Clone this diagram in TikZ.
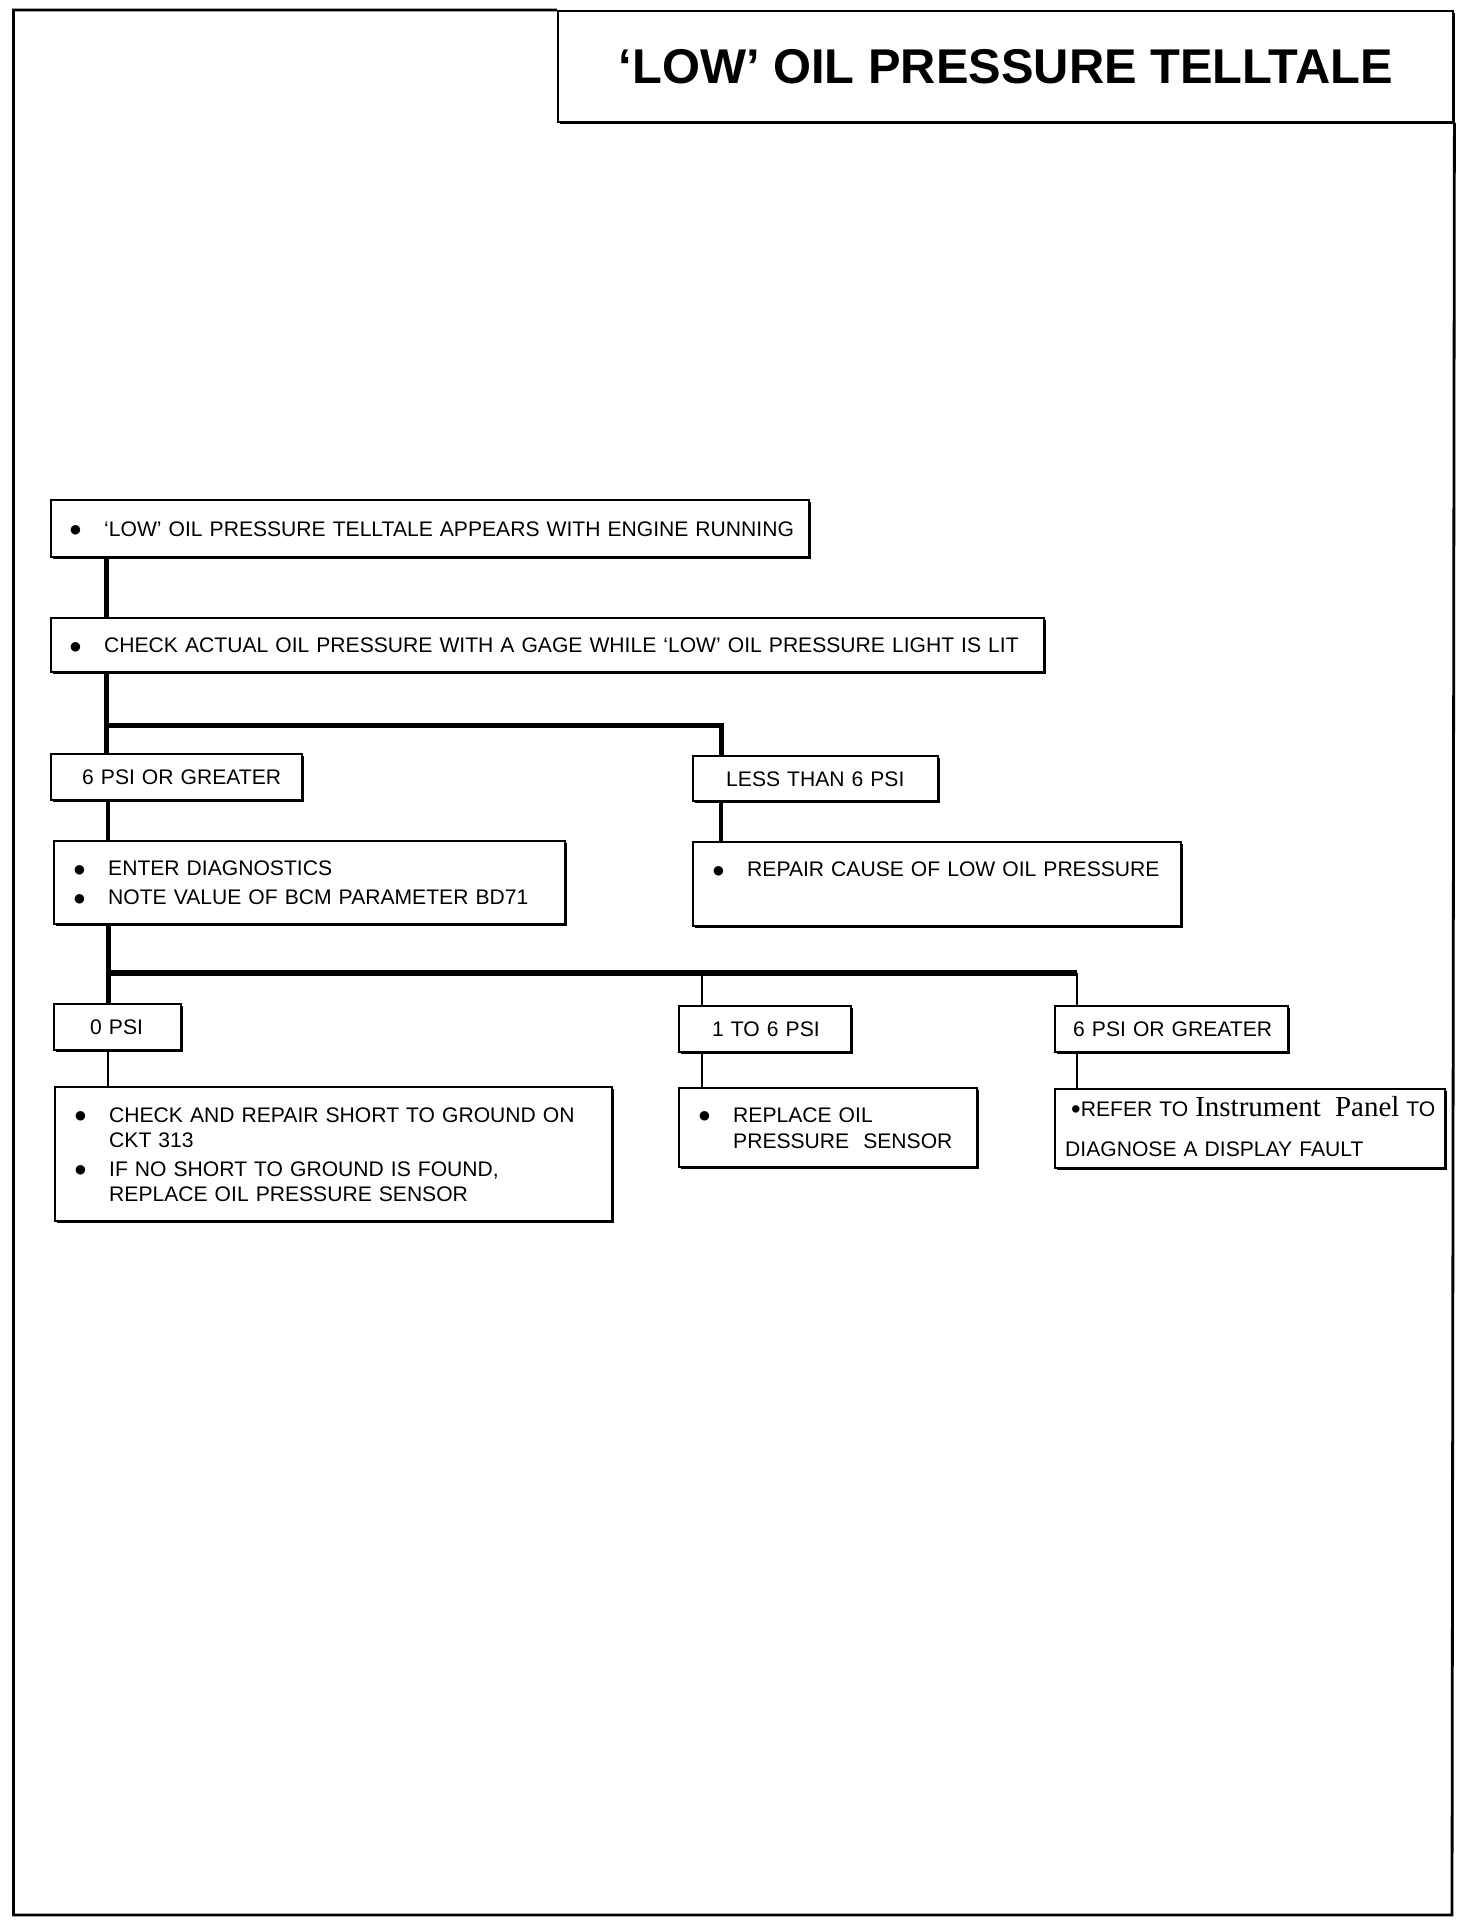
\documentclass[tikz,border=0pt]{standalone}
\usepackage{fontspec}
\setmainfont{Liberation Sans}
\newfontfamily\serifpart{Liberation Serif}
\newfontfamily\dotfont{DejaVu Sans}
\usetikzlibrary{shadows}

\newcommand{\dotmark}{\raisebox{1.2pt}{\dotfont\fontsize{6.2}{6}\selectfont ●}}
\newcommand{\bull}{\makebox[17pt][l]{\dotmark}}
\newcommand{\indnt}{\hspace*{17pt}}

\tikzset{
  box/.style={draw, line width=1.2pt, fill=white, anchor=north west, inner sep=0pt,
    align=left, text height=7.5pt, font=\fontsize{10.55}{12.5}\selectfont,
    drop shadow={shadow xshift=1.1pt, shadow yshift=-1.1pt, opacity=1, fill=black}},
  pad/.style={execute at begin node={\leftskip=#1}},
  head/.style={draw, line width=1.2pt, fill=white, anchor=north west, inner sep=0pt,
    font=\fontsize{24.4}{28}\selectfont\bfseries,
    drop shadow={shadow xshift=1.1pt, shadow yshift=-1.1pt, opacity=1, fill=black}},
  trunk/.style={line width=2.5pt},
  branch/.style={line width=1.9pt},
  leaf/.style={line width=1.4pt}
}

\begin{document}
\begin{tikzpicture}[x=0.5pt, y=-0.5pt]
\useasboundingbox (0,0) rectangle (1472,1928);

% title and page frame
\node[head, minimum width=447.5pt, minimum height=55.25pt] (title) at (557,10) {‘LOW’ OIL PRESSURE TELLTALE};
\draw[line width=1.4pt] (title.north west) -- (13.5,10) -- (13.5,1915) -- (1452,1915) -- (title.south east);

% steps
\node[box, pad=9.5pt, text width=379pt, minimum height=28.5pt] (seen) at (50,499)
  {\bull‘LOW’ OIL PRESSURE TELLTALE APPEARS WITH ENGINE RUNNING};
\node[box, pad=9.5pt, text width=496.5pt, minimum height=27pt] (check) at (50,617)
  {\bull CHECK ACTUAL OIL PRESSURE WITH A GAGE WHILE ‘LOW’ OIL PRESSURE LIGHT IS LIT};

\node[box, pad=15.5pt, text width=125.5pt, minimum height=23pt] (hi) at (50,753) {6 PSI OR GREATER};
\node[box, pad=16.5pt, text width=122.5pt, minimum height=22.5pt] (lo) at (692,755) {LESS THAN 6 PSI};

\node[box, pad=10pt, text width=255.5pt, minimum height=41.5pt] (diag) at (53,840)
  {\bull ENTER DIAGNOSTICS\\[2pt]\bull NOTE VALUE OF BCM PARAMETER BD71};
\node[box, pad=10pt, text width=244pt, minimum height=42pt, text depth=15pt] (repair) at (692,841)
  {\bull REPAIR CAUSE OF LOW OIL PRESSURE};

% readings of BD71
\node[box, pad=18pt, text width=63.5pt, minimum height=23pt] (zero) at (53,1003) {0 PSI};
\node[box, pad=16.5pt, text width=86pt, minimum height=23pt] (mid) at (678,1005) {1 TO 6 PSI};
\node[box, pad=9pt, text width=116.5pt, minimum height=23pt] (high) at (1054,1005) {6 PSI OR GREATER};

\node[box, pad=10pt, text width=278.5pt, minimum height=67pt] (short) at (54,1086)
  {\bull CHECK AND REPAIR SHORT TO GROUND ON\\
   \indnt CKT 313\\[2pt]
   \bull IF NO SHORT TO GROUND IS FOUND,\\
   \indnt REPLACE OIL PRESSURE SENSOR};
\node[box, pad=10pt, text width=149pt, minimum height=39.5pt] (swap) at (678,1087)
  {\bull REPLACE OIL\\[0.5pt]\indnt PRESSURE\ \ SENSOR};
\node[box, pad=5pt, text width=195pt, minimum height=39.5pt] (refer) at (1054,1088)
  {\hspace*{3pt}\raisebox{-1pt}{\scalebox{1.3}{\textbullet}}REFER TO {\serifpart\fontsize{14.5}{12.5}\selectfont Instrument\ \ Panel} TO\\[7.5pt]
   DIAGNOSE A DISPLAY FAULT};

% connectors
\coordinate (ja) at (106,725);
\coordinate (jb) at (721,725);
\coordinate (jc) at (108,973);
\coordinate (jd) at (702,973);
\coordinate (je) at (1077,973);

\draw[trunk] (seen.south -| ja) -- (check.north -| ja);
\draw[trunk] (check.south -| ja) -- (hi.north -| ja);
\draw[trunk] (ja) -- (jb) -- (lo.north -| jb);
\draw[branch] (hi.south -| jc) -- (diag.north -| jc);
\draw[branch] (lo.south -| jb) -- (repair.north -| jb);

\draw[trunk] (diag.south -| jc) -- (zero.north -| jc);
\draw[line width=3pt] (jc) -- (je);
\draw[leaf] (jd) -- (mid.north -| jd);
\draw[leaf] (je) -- (high.north -| je);
\draw[leaf] (zero.south -| jc) -- (short.north -| jc);
\draw[leaf] (mid.south -| jd) -- (swap.north -| jd);
\draw[leaf] (high.south -| je) -- (refer.north -| je);
\end{tikzpicture}
\end{document}
